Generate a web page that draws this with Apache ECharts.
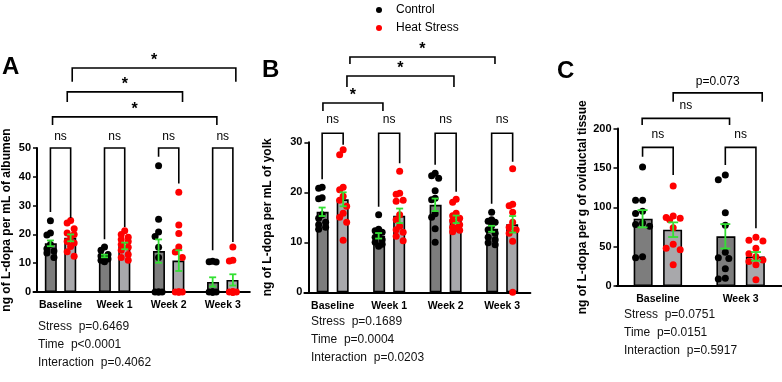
<!DOCTYPE html>
<html><head><meta charset="utf-8">
<script src="https://cdn.jsdelivr.net/npm/echarts@6/dist/echarts.min.js"></script>
<style>html,body{margin:0;padding:0;background:#fff}#c{width:782px;height:382px}</style>
</head><body><div id="c"></div>
<script>
// ================= DATA =================
const catsA = ['Baseline', 'Week 1', 'Week 2', 'Week 3'];
const catsB = ['Baseline', 'Week 1', 'Week 2', 'Week 3'];
const catsC = ['Baseline', 'Week 3'];
const legendNames = ['Control', 'Heat Stress'];

// Panel A: ng of L-dopa per mL of albumen
const meanA_ctrl = [16.9, 12.5, 14.2, 3.5];
const semA_ctrl  = [1.0, 0.45, 4.05, 1.6];
const meanA_heat = [18.8, 16.0, 10.9, 4.2];
const semA_heat  = [1.2, 1.15, 3.6, 1.95];
const ptsA_ctrl = [
  [24.7, 20.5, 19.8, 16.5, 15.0, 14.2, 13.5, 12.0],
  [15.6, 14.5, 13.0, 12.5, 12.0, 11.5, 11.0, 10.5],
  [43.8, 25.3, 20.8, 19.3, 15.5, 12.0, 0, 0, 0, 0],
  [10.7, 10.5, 10.4, 0, 0, 0, 0, 0, 0]
];
const ptsA_heat = [
  [24.8, 24.0, 22.0, 20.5, 20.0, 19.3, 17.5, 17.0, 15.8, 14.0, 12.4],
  [21.3, 20.0, 19.0, 18.2, 17.5, 16.5, 15.5, 14.5, 13.0, 12.0, 11.0],
  [34.6, 23.3, 20.3, 15.6, 13.9, 12.0, 0, 0, 0, 0, 0],
  [15.6, 11.0, 10.8, 0, 0, 0, 0, 0, 0, 0, 0]
];
const statsA = ['Stress  p=0.6469', 'Time  p<0.0001', 'Interaction  p=0.4062'];

// Panel B: ng of L-dopa per mL of yolk
const meanB_ctrl = [16.1, 11.3, 17.5, 12.7];
const semB_ctrl  = [0.85, 0.55, 1.25, 0.6];
const meanB_heat = [18.6, 15.3, 14.6, 13.6];
const semB_heat  = [1.4, 1.45, 0.75, 1.65];
const ptsB_ctrl = [
  [21.0, 20.8, 18.9, 18.7, 15.5, 14.8, 14.0, 13.5, 13.0, 12.6],
  [15.5, 12.6, 12.3, 12.0, 11.5, 11.0, 10.5, 10.0, 9.6, 9.2],
  [23.8, 23.3, 22.8, 20.3, 18.8, 18.5, 15.7, 15.0, 12.7, 10.0],
  [16.0, 14.5, 14.2, 14.0, 13.3, 12.5, 11.8, 11.0, 10.5, 9.9, 9.5]
];
const ptsB_heat = [
  [28.5, 27.5, 21.0, 20.5, 19.2, 18.4, 17.2, 15.8, 15.0, 14.0, 10.4],
  [24.2, 19.8, 19.6, 18.4, 18.2, 15.5, 14.5, 13.2, 12.5, 12.0, 11.2, 10.3],
  [18.6, 18.0, 15.8, 15.3, 14.8, 14.3, 13.5, 13.0, 12.8, 12.4, 12.1],
  [24.7, 17.6, 17.3, 16.0, 14.0, 13.0, 12.5, 11.8, 10.2, 0]
];
const statsB = ['Stress  p=0.1689', 'Time  p=0.0004', 'Interaction  p=0.0203'];

// Panel C: ng of L-dopa per g of oviductal tissue
const meanC_ctrl = [85.4, 63.1];
const semC_ctrl  = [11.0, 15.5];
const meanC_heat = [71.5, 37.6];
const semC_heat  = [9.3, 5.5];
const ptsC_ctrl = [
  [151, 109, 109, 95, 92, 80, 78, 76, 37, 36],
  [141, 135, 93, 77, 43, 36, 35, 22, 10, 9]
];
const ptsC_heat = [
  [127, 89, 87, 86, 84, 74, 53, 48, 46, 27],
  [62, 58, 57, 48, 41, 37, 33, 31, 27, 8]
];
const statsC = ['Stress  p=0.0751', 'Time  p=0.0151', 'Interaction  p=0.5917'];

// Significance annotations (x in category units, y levels in data units)
const annA = [
  {x: [-0.187, 0.187], y: [50, 27.8, 25.7], t: 'ns'},
  {x: [0.813, 1.187], y: [50, 18.3, 22.6], t: 'ns'},
  {x: [1.813, 2.187], y: [50, 47.0, 37.7], t: 'ns'},
  {x: [2.813, 3.187], y: [50, 14.5, 17.4], t: 'ns'},
  {x: [-0.148, 2.891], y: [60.8, 58.0, 58.0], t: '*'},
  {x: [0.124, 2.256], y: [69.5, 66.0, 66.0], t: '*'},
  {x: [0.216, 3.242], y: [77.8, 73.0, 73.0], t: '*'}
];
const annB = [
  {x: [-0.186, 0.186], y: [31.8, 22.6, 29.5], t: 'ns'},
  {x: [0.814, 1.186], y: [31.8, 17.1, 25.8], t: 'ns'},
  {x: [1.814, 2.186], y: [31.8, 25.5, 20.1], t: 'ns'},
  {x: [2.814, 3.186], y: [31.8, 17.7, 26.1], t: 'ns'},
  {x: [-0.172, 0.890], y: [37.86, 36.26, 36.26], t: '*'},
  {x: [0.253, 2.147], y: [43.26, 41.06, 41.06], t: '*'},
  {x: [0.306, 2.873], y: [47.06, 45.66, 45.66], t: '*'}
];
const annC = [
  {x: [-0.185, 0.185], y: [176, 164, 141], t: 'ns'},
  {x: [0.815, 1.185], y: [176, 153.6, 73.2], t: 'ns'},
  {x: [-0.190, 0.866], y: [212.8, 204.3, 204.3], t: 'ns'},
  {x: [0.185, 1.261], y: [245.3, 233.9, 233.9], t: 'p=0.073'}
];

// ================= STYLE / LAYOUT =================
const FONT = '"Liberation Sans", Arial, Helvetica, sans-serif';
const GREEN = '#33e033';
const panels = [
  {cats: catsA, yMax: 50, yInt: 10, yName: 'ng of L-dopa per mL of albumen',
   mc: meanA_ctrl, sc: semA_ctrl, mh: meanA_heat, sh: semA_heat, pc: ptsA_ctrl, ph: ptsA_heat, ann: annA,
   grid: {left: 33, top: 148, width: 216.8, height: 144}, yOff: -3.5, nameGap: 24,
   barW: 12, barGap: '62%', off: 0.187, cap: 7, halfW: 6, nsGap: 10.5, letter: 'A', lx: 2, ly: 67, stats: statsA, sx: 38, sy: 326},
  {cats: catsB, yMax: 30, yInt: 10, yName: 'ng of L-dopa per mL of yolk',
   mc: meanB_ctrl, sc: semB_ctrl, mh: meanB_heat, sh: semB_heat, pc: ptsB_ctrl, ph: ptsB_heat, ann: annB,
   grid: {left: 304.4, top: 142.3, width: 226, height: 150}, yOff: -4, nameGap: 34.5,
   barW: 12, barGap: '67%', off: 0.186, cap: 7, halfW: 6, nsGap: 13, letter: 'B', lx: 262, ly: 70, stats: statsB, sx: 311, sy: 321},
  {cats: catsC, yMax: 200, yInt: 50, yName: 'ng of L-dopa per g of oviductal tissue',
   mc: meanC_ctrl, sc: semC_ctrl, mh: meanC_heat, sh: semC_heat, pc: ptsC_ctrl, ph: ptsC_heat, ann: annC,
   grid: {left: 616.5, top: 128.5, width: 168.6, height: 157.5}, yOff: -1, nameGap: 28.5,
   barW: 19, barGap: '55%', off: 0.185, cap: 10, halfW: 9, nsGap: 11.5, letter: 'C', lx: 557, ly: 71, stats: statsC, sx: 624, sy: 314}
];

const chart = echarts.init(document.getElementById('c'));

const grids = [], xAxes = [], yAxes = [], series = [], graphics = [];

panels.forEach((P, i) => {
  grids.push(Object.assign({containLabel: false}, P.grid));
  xAxes.push({
    type: 'category', gridIndex: i, data: P.cats, boundaryGap: true,
    axisLine: {onZero: false, lineStyle: {color: '#000', width: 2}},
    axisTick: {alignWithLabel: true, length: 4, lineStyle: {color: '#000', width: 1.5}},
    axisLabel: {interval: 0, color: '#000', fontFamily: FONT, fontWeight: 'bold', fontSize: 10.5, margin: 8}
  });
  xAxes.push({type: 'value', gridIndex: i, min: -0.5, max: P.cats.length - 0.5, show: false,
    axisLine: {onZero: false}});
  yAxes.push({
    type: 'value', gridIndex: i, min: 0, max: P.yMax, interval: P.yInt, offset: P.yOff,
    name: P.yName, nameLocation: 'middle', nameGap: P.nameGap,
    nameTextStyle: {color: '#000', fontFamily: FONT, fontWeight: 'bold', fontSize: 12},
    axisLine: {show: true, onZero: false, lineStyle: {color: '#000', width: 2}},
    axisTick: {show: true, length: 4, lineStyle: {color: '#000', width: 1.5}},
    splitLine: {show: false},
    axisLabel: {color: '#000', fontFamily: FONT, fontWeight: 'bold', fontSize: 11, margin: 6}
  });
  const xc = 2 * i, xv = 2 * i + 1;
  series.push({type: 'bar', name: 'ctrlBar' + i, xAxisIndex: xc, yAxisIndex: i, data: P.mc,
    barWidth: P.barW, barGap: P.barGap, silent: true, z: 1,
    itemStyle: {color: '#7d7d7d', borderColor: '#000', borderWidth: 1.6}});
  series.push({type: 'bar', name: 'heatBar' + i, xAxisIndex: xc, yAxisIndex: i, data: P.mh,
    barWidth: P.barW, barGap: P.barGap, silent: true, z: 1,
    itemStyle: {color: '#a8a8ab', borderColor: '#000', borderWidth: 1.6}});
  series.push({id: 'sc' + i, type: 'scatter', name: 'Control', xAxisIndex: xv, yAxisIndex: i, data: [],
    symbolSize: 7, itemStyle: {color: '#000', opacity: 1}, z: 3, silent: true});
  series.push({id: 'sh' + i, type: 'scatter', name: 'Heat Stress', xAxisIndex: xv, yAxisIndex: i, data: [],
    symbolSize: 7, itemStyle: {color: '#ff0000', opacity: 1}, z: 3, silent: true});
  const errData = [];
  P.mc.forEach((m, g) => errData.push([g - P.off, m, P.sc[g]]));
  P.mh.forEach((m, g) => errData.push([g + P.off, m, P.sh[g]]));
  series.push({type: 'custom', xAxisIndex: xv, yAxisIndex: i, data: errData, z: 5, silent: true, clip: false,
    renderItem: (params, api) => {
      const x = api.value(0), m = api.value(1), s = api.value(2);
      const lo = api.coord([x, m - s]), hi = api.coord([x, m + s]);
      const c = P.cap / 2, st = {stroke: GREEN, lineWidth: 1.8};
      return {type: 'group', children: [
        {type: 'line', shape: {x1: lo[0], y1: lo[1], x2: hi[0], y2: hi[1]}, style: st},
        {type: 'line', shape: {x1: lo[0] - c, y1: lo[1], x2: lo[0] + c, y2: lo[1]}, style: st},
        {type: 'line', shape: {x1: hi[0] - c, y1: hi[1], x2: hi[0] + c, y2: hi[1]}, style: st}
      ]};
    }});
  series.push({type: 'custom', xAxisIndex: xv, yAxisIndex: i, z: 6, silent: true, clip: false,
    data: P.ann.map(a => [a.x[0], a.x[1], a.y[0], a.y[1], a.y[2]]),
    renderItem: (params, api) => {
      const a = P.ann[params.dataIndex];
      const p1 = api.coord([api.value(0), api.value(3)]);
      const p2 = api.coord([api.value(0), api.value(2)]);
      const p3 = api.coord([api.value(1), api.value(2)]);
      const p4 = api.coord([api.value(1), api.value(4)]);
      const mx = (p2[0] + p3[0]) / 2;
      let font = '12px ' + FONT, dy = -(P.nsGap + 1);
      if (a.t === '*') { font = 'bold 16px ' + FONT; dy = -7.5; }
      else if (a.t.indexOf('p=') === 0) { dy = -11; }
      return {type: 'group', children: [
        {type: 'polyline', shape: {points: [p1, p2, p3, p4]}, style: {stroke: '#000', lineWidth: 1.6, fill: null}},
        {type: 'text', x: mx, y: p2[1] + dy, style: {text: a.t, font: font, fill: '#000', align: 'center', verticalAlign: 'middle'}}
      ]};
    }});
  graphics.push({type: 'text', left: P.lx, top: P.ly - 12,
    style: {text: P.letter, font: 'bold 24px ' + FONT, fill: '#000'}});
  graphics.push({type: 'text', left: P.sx, top: P.sy - 8,
    style: {text: P.stats.join('\n'), font: '12px ' + FONT, fill: '#111', lineHeight: 18}});
});

chart.setOption({
  animation: false,
  backgroundColor: '#fff',
  legend: {data: legendNames, orient: 'vertical', left: 371, top: -1, itemWidth: 24, itemHeight: 6, itemGap: 6,
    icon: 'circle', selectedMode: false, textStyle: {color: '#000', fontFamily: FONT, fontSize: 12}},
  grid: grids, xAxis: xAxes, yAxis: yAxes, series: series, graphic: graphics
});

// deterministic beeswarm placement using the chart's own scales
function swarm(vals, cx, xi, yi, halfW, minD) {
  const a = chart.convertToPixel({xAxisIndex: xi, yAxisIndex: yi}, [0, 0]);
  const b = chart.convertToPixel({xAxisIndex: xi, yAxisIndex: yi}, [1, 1]);
  const pxX = b[0] - a[0], pxY = b[1] - a[1];
  const step = minD / 2, cands = [0];
  for (let k = 1; k * step <= halfW + 0.01; k++) cands.push(-k * step, k * step);
  const placed = [];
  return vals.map(v => {
    const py = v * pxY;
    let best = 0, bestD = -1;
    for (const c of cands) {
      let md = Infinity;
      for (const p of placed) md = Math.min(md, Math.hypot(p[0] - c, p[1] - py));
      if (md >= minD) { best = c; bestD = md; break; }
      if (md > bestD) { bestD = md; best = c; }
    }
    placed.push([best, py]);
    return [cx + best / pxX, v];
  });
}
const upd = [];
panels.forEach((P, i) => {
  const xv = 2 * i + 1;
  let dc = [], dh = [];
  P.pc.forEach((vals, g) => { dc = dc.concat(swarm(vals, g - P.off, xv, i, P.halfW, 7)); });
  P.ph.forEach((vals, g) => { dh = dh.concat(swarm(vals, g + P.off, xv, i, P.halfW, 7)); });
  upd.push({id: 'sc' + i, data: dc}, {id: 'sh' + i, data: dh});
});
chart.setOption({series: upd});
</script></body></html>
